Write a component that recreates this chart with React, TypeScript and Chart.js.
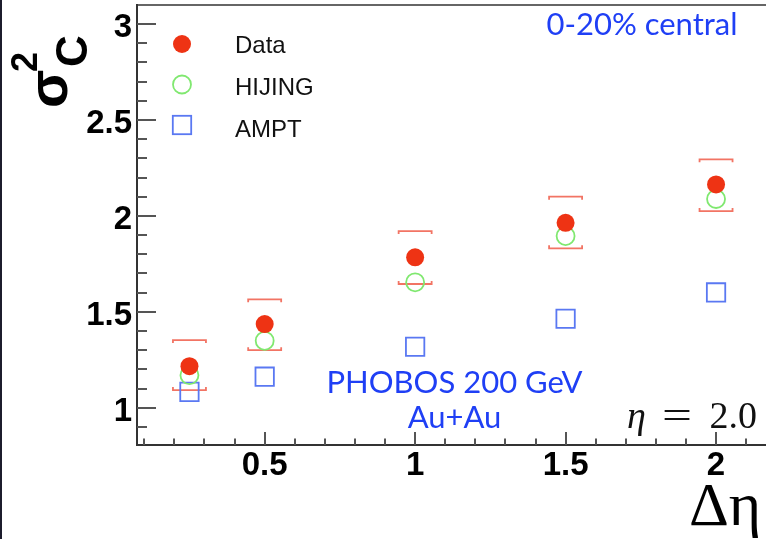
import { useEffect, useRef } from 'react';
import { Chart, registerables } from 'chart.js';

Chart.register(...registerables);

const deltaEta = [0.25, 0.5, 1, 1.5, 2];
const dataValues = [1.217, 1.436, 1.784, 1.964, 2.164];
const sysHigh = [1.353, 1.565, 1.921, 2.1, 2.295];
const sysLow = [1.092, 1.3, 1.645, 1.831, 2.025];
const hijingValues = [1.17, 1.349, 1.654, 1.895, 2.088];
const amptValues = [1.083, 1.162, 1.318, 1.464, 1.601];
const xTickValues = [0.5, 1, 1.5, 2];
const yTickValues = [1, 1.5, 2, 2.5, 3];
const legendLabels = ['Data', 'HIJING', 'AMPT'];

const RED = '#ee3314';
const GREEN = '#80e870';
const BLUE = '#5a78f2';
const BRACKET = '#f27464';
const TEXT_BLUE = '#1f3ff5';
const SANS = '"Liberation Sans", Arial, Helvetica, sans-serif';
const SERIF = '"Liberation Serif", "Times New Roman", serif';
const GILL = 'Lato, "Open Sans", sans-serif';

const decorPlugin = {
  id: 'decor',
  beforeDatasetsDraw(chart: any) {
    const ctx = chart.ctx;
    const xs = chart.scales.x;
    const ys = chart.scales.y;
    ctx.save();
    ctx.strokeStyle = BRACKET;
    ctx.lineWidth = 1.8;
    const half = 16.5;
    const hook = 3;
    deltaEta.forEach((xv, i) => {
      const px = xs.getPixelForValue(xv);
      const pt = ys.getPixelForValue(sysHigh[i]);
      const pb = ys.getPixelForValue(sysLow[i]);
      ctx.beginPath();
      ctx.moveTo(px - half, pt + hook);
      ctx.lineTo(px - half, pt);
      ctx.lineTo(px + half, pt);
      ctx.lineTo(px + half, pt + hook);
      ctx.stroke();
      ctx.beginPath();
      ctx.moveTo(px - half, pb - hook);
      ctx.lineTo(px - half, pb);
      ctx.lineTo(px + half, pb);
      ctx.lineTo(px + half, pb - hook);
      ctx.stroke();
    });
    ctx.restore();
  },
  afterDraw(chart: any) {
    const ctx = chart.ctx;
    const xs = chart.scales.x;
    const ys = chart.scales.y;
    const a = chart.chartArea;
    ctx.save();
    // slide edge
    ctx.fillStyle = '#1c1c2c';
    ctx.fillRect(0, 0, 2, chart.height);
    // frame
    ctx.fillStyle = '#666';
    ctx.fillRect(a.left, a.top - 1, a.right - a.left, 2);
    ctx.fillStyle = '#333';
    ctx.fillRect(a.left - 1, a.top - 1, 2, a.bottom - a.top + 2);
    ctx.fillRect(a.left - 1, a.bottom - 1, a.right - a.left + 1, 2);
    // ticks
    ctx.strokeStyle = '#555';
    ctx.lineWidth = 2;
    for (let k = 1; k <= 30; k++) {
      const v = k / 10;
      if (v >= ys.min && v <= ys.max) {
        const py = Math.round(ys.getPixelForValue(v));
        const len = k % 5 === 0 ? 19 : 10;
        ctx.beginPath();
        ctx.moveTo(a.left, py);
        ctx.lineTo(a.left + len, py);
        ctx.stroke();
      }
      if (v >= xs.min && v <= xs.max) {
        const px = Math.round(xs.getPixelForValue(v));
        const len = k % 5 === 0 ? 13 : 6.5;
        ctx.beginPath();
        ctx.moveTo(px, a.bottom);
        ctx.lineTo(px, a.bottom - len);
        ctx.stroke();
      }
    }
    // legend
    const lx = 182;
    const ly = [44, 84.5, 125];
    const lb = [53.3, 95, 136.7];
    ctx.fillStyle = RED;
    ctx.beginPath();
    ctx.arc(lx, ly[0], 9, 0, Math.PI * 2);
    ctx.fill();
    ctx.strokeStyle = GREEN;
    ctx.lineWidth = 1.8;
    ctx.beginPath();
    ctx.arc(lx, ly[1], 9, 0, Math.PI * 2);
    ctx.stroke();
    ctx.strokeStyle = BLUE;
    ctx.strokeRect(lx - 9.2, ly[2] - 9.2, 18.4, 18.4);
    ctx.fillStyle = '#111';
    ctx.font = `24px ${SANS}`;
    ctx.textAlign = 'left';
    ctx.textBaseline = 'alphabetic';
    legendLabels.forEach((t, i) => ctx.fillText(t, 235, lb[i]));
    // annotations
    ctx.fillStyle = TEXT_BLUE;
    ctx.font = `31px ${GILL}`;
    ctx.textAlign = 'center';
    ctx.fillText('0-20% central', 642, 35);
    ctx.fillText('PHOBOS 200 GeV', 454.5, 393);
    ctx.fillText('Au+Au', 454.5, 428);
    // eta = 2.0
    ctx.fillStyle = '#111';
    ctx.textAlign = 'left';
    ctx.font = `italic 38px ${SERIF}`;
    ctx.fillText('η', 627, 428);
    ctx.save();
    ctx.translate(662, 428);
    ctx.scale(1.4, 1);
    ctx.font = `38px ${SERIF}`;
    ctx.fillText('=', 0, 0);
    ctx.restore();
    ctx.font = `38px ${SERIF}`;
    ctx.textAlign = 'right';
    ctx.fillText('2.0', 757, 428);
    // x title
    ctx.textAlign = 'left';
    ctx.fillStyle = '#000';
    ctx.font = `62px ${SERIF}`;
    ctx.fillText('Δη', 689, 525);
    // y title (rotated)
    ctx.save();
    ctx.translate(67, 108);
    ctx.rotate(-Math.PI / 2);
    ctx.font = `bold 56px ${SANS}`;
    ctx.fillText('σ', 0, 0);
    ctx.font = `bold 36px ${SANS}`;
    ctx.fillText('2', 36, -30);
    ctx.font = `bold 44px ${SANS}`;
    ctx.fillText('C', 41, 20);
    ctx.restore();
    ctx.restore();
  },
};

export default function App() {
  const ref = useRef<HTMLCanvasElement>(null);
  useEffect(() => {
    document.body.style.margin = '0';
    const chart = new Chart(ref.current as HTMLCanvasElement, {
      type: 'scatter',
      data: {
        datasets: [
          {
            label: legendLabels[0],
            data: deltaEta.map((x, i) => ({ x, y: dataValues[i] })),
            pointRadius: 9,
            pointBackgroundColor: RED,
            pointBorderWidth: 0,
            pointBorderColor: RED,
          },
          {
            label: legendLabels[1],
            data: deltaEta.map((x, i) => ({ x, y: hijingValues[i] })),
            pointRadius: 9,
            pointBackgroundColor: 'rgba(0,0,0,0)',
            pointBorderColor: GREEN,
            pointBorderWidth: 1.8,
          },
          {
            label: legendLabels[2],
            data: deltaEta.map((x, i) => ({ x, y: amptValues[i] })),
            pointStyle: 'rect',
            pointRadius: 13,
            pointBackgroundColor: 'rgba(0,0,0,0)',
            pointBorderColor: BLUE,
            pointBorderWidth: 1.8,
          },
        ],
      },
      options: {
        responsive: false,
        animation: false,
        events: [],
        layout: { autoPadding: false, padding: { top: 5, left: 0, right: 0, bottom: 0 } },
        plugins: { legend: { display: false }, tooltip: { enabled: false } },
        scales: {
          x: {
            type: 'linear',
            min: 0.0757,
            max: 2.166,
            grid: { display: false, drawTicks: false },
            border: { display: false },
            afterFit: (s: any) => {
              s.height = 94;
              s.paddingLeft = 0;
              s.paddingRight = 0;
            },
            afterBuildTicks: (s: any) => {
              s.ticks = xTickValues.map((v) => ({ value: v }));
            },
            ticks: {
              padding: 1,
              color: '#000',
              font: { family: SANS, size: 33, weight: 'bold' },
              callback: (v: any) => String(v),
            },
          },
          y: {
            type: 'linear',
            min: 0.806,
            max: 3.099,
            grid: { display: false, drawTicks: false },
            border: { display: false },
            afterFit: (s: any) => {
              s.width = 137;
              s.paddingTop = 0;
              s.paddingBottom = 0;
            },
            afterBuildTicks: (s: any) => {
              s.ticks = yTickValues.map((v) => ({ value: v }));
            },
            ticks: {
              padding: 5,
              labelOffset: 4,
              color: '#000',
              font: { family: SANS, size: 33, weight: 'bold' },
              callback: (v: any) => String(v),
            },
          },
        },
      },
      plugins: [decorPlugin],
    } as any);
    return () => chart.destroy();
  }, []);
  return (
    <div style={{ position: 'fixed', left: 0, top: 0, width: 766, height: 539, background: '#fff' }}>
      <canvas ref={ref} width={766} height={539} />
    </div>
  );
}
